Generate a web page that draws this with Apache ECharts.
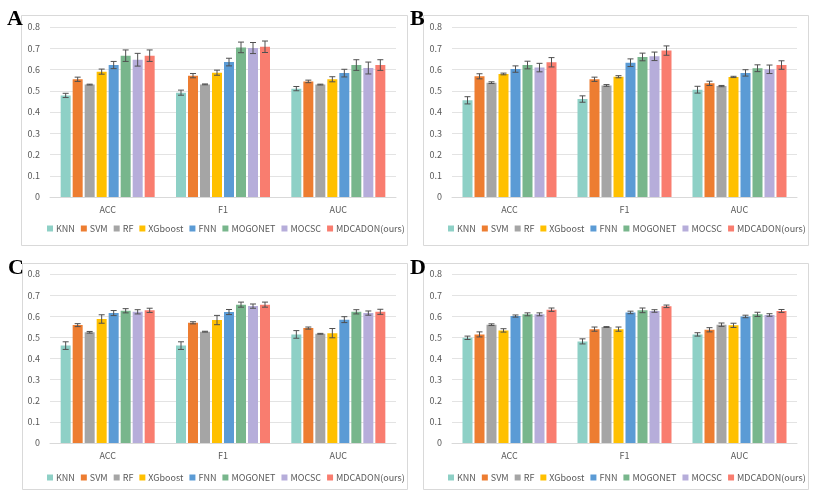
<!DOCTYPE html>
<html><head><meta charset="utf-8">
<script src="https://cdn.jsdelivr.net/npm/echarts@6/dist/echarts.min.js"></script>
<style>html,body{margin:0;padding:0;background:#fff}#c{width:820px;height:502px}</style>
</head><body><div id="c"></div>
<script>
const categories = ['ACC', 'F1', 'AUC'];
const methods = ['KNN', 'SVM', 'RF', 'XGboost', 'FNN', 'MOGONET', 'MOCSC', 'MDCADON(ours)'];
const yTicks = [0, 0.1, 0.2, 0.3, 0.4, 0.5, 0.6, 0.7, 0.8];
const panelLetters = ['A', 'B', 'C', 'D'];

// rows = methods, columns = ACC, F1, AUC
const meanA = [[0.478,0.491,0.510],[0.554,0.571,0.544],[0.529,0.530,0.529],[0.590,0.585,0.554],[0.621,0.635,0.583],[0.665,0.704,0.621],[0.646,0.701,0.607],[0.665,0.707,0.621]];
const errA  = [[0.010,0.012,0.010],[0.010,0.010,0.006],[0.002,0.002,0.002],[0.012,0.012,0.012],[0.017,0.018,0.018],[0.027,0.025,0.025],[0.030,0.026,0.028],[0.027,0.027,0.025]];
const meanB = [[0.455,0.461,0.505],[0.568,0.554,0.535],[0.538,0.525,0.522],[0.579,0.566,0.565],[0.602,0.632,0.584],[0.621,0.659,0.606],[0.609,0.662,0.601],[0.634,0.689,0.621]];
const errB  = [[0.017,0.015,0.016],[0.012,0.010,0.010],[0.004,0.004,0.003],[0.004,0.005,0.003],[0.015,0.018,0.015],[0.018,0.018,0.016],[0.020,0.020,0.020],[0.022,0.022,0.020]];
const meanC = [[0.461,0.461,0.514],[0.558,0.569,0.544],[0.524,0.527,0.517],[0.587,0.582,0.520],[0.615,0.620,0.584],[0.626,0.655,0.621],[0.621,0.648,0.615],[0.628,0.655,0.621]];
const errC  = [[0.018,0.018,0.018],[0.007,0.005,0.005],[0.004,0.002,0.002],[0.020,0.022,0.022],[0.012,0.012,0.014],[0.010,0.012,0.010],[0.010,0.010,0.010],[0.010,0.012,0.012]];
const meanD = [[0.498,0.481,0.514],[0.514,0.539,0.536],[0.560,0.549,0.560],[0.533,0.539,0.557],[0.601,0.618,0.599],[0.609,0.628,0.609],[0.609,0.625,0.606],[0.631,0.647,0.625]];
const errD  = [[0.008,0.012,0.008],[0.012,0.010,0.010],[0.004,0.002,0.008],[0.008,0.010,0.010],[0.005,0.006,0.006],[0.007,0.011,0.010],[0.007,0.006,0.006],[0.008,0.006,0.007]];

const means = [meanA, meanB, meanC, meanD];
const errs = [errA, errB, errC, errD];

const colors = ['#8ED0C6', '#ED7D31', '#A5A5A5', '#FFC000', '#5B9BD5', '#78B68C', '#B6ADDA', '#F97D6F'];

// layout
const grids = [
  {left: 50, top: 27, width: 346, height: 170},
  {left: 452, top: 27, width: 345, height: 170},
  {left: 50, top: 274, width: 346, height: 169},
  {left: 452, top: 274, width: 345, height: 169}
];
const boxes = [
  {x: 21, y: 15, w: 386, h: 230},
  {x: 423, y: 15, w: 385, h: 230},
  {x: 22, y: 263, w: 385, h: 226},
  {x: 423, y: 263, w: 385, h: 226}
];
const letterPos = [[7, 30], [410, 30], [8, 279], [410, 279]];
const legendPos = [[47, 224], [448, 224], [47, 473], [448, 473]];

const BW = 10, GAP = 2;
const font = '"Noto Sans CJK SC", "Noto Sans", sans-serif';
const textColor = '#595959';

const xAxis = [], yAxis = [], series = [], legend = [], graphic = [];
grids.forEach((g, p) => {
  xAxis.push({
    type: 'category', gridIndex: p, data: categories,
    axisLine: {lineStyle: {color: '#D9D9D9'}}, axisTick: {show: false},
    axisLabel: {color: textColor, fontSize: 9, fontFamily: font, margin: 8}
  });
  yAxis.push({
    type: 'value', gridIndex: p, min: 0, max: 0.8, interval: 0.1,
    axisLine: {show: false}, axisTick: {show: false},
    splitLine: {lineStyle: {color: '#E3E3E3'}},
    axisLabel: {color: textColor, fontSize: 9, fontFamily: font, margin: 10,
      formatter: v => { const t = yTicks.find(k => Math.abs(k - v) < 1e-9); return t === 0 ? '0' : String(+v.toFixed(1)); }}
  });
  methods.forEach((m, i) => {
    series.push({
      type: 'bar', name: m, xAxisIndex: p, yAxisIndex: p,
      data: means[p][i], barWidth: BW, barGap: '20%',
      itemStyle: {color: colors[i]}, emphasis: {disabled: true}
    });
  });
  const eData = [];
  methods.forEach((m, i) => categories.forEach((c, k) => eData.push([k, i, means[p][i][k], errs[p][i][k]])));
  series.push({
    type: 'custom', xAxisIndex: p, yAxisIndex: p, z: 10, silent: true,
    encode: {x: 0, y: 2},
    data: eData,
    renderItem: (params, api) => {
      const k = api.value(0), i = api.value(1), m = api.value(2), e = api.value(3);
      const n = methods.length;
      const off = -(n * BW + (n - 1) * GAP) / 2 + i * (BW + GAP) + BW / 2;
      const hi = api.coord([k, m + e]);
      const lo = api.coord([k, m - e]);
      const x = hi[0] + off;
      const st = {stroke: '#505050', lineWidth: 1};
      return {type: 'group', children: [
        {type: 'line', shape: {x1: x, y1: hi[1], x2: x, y2: lo[1]}, style: st},
        {type: 'line', shape: {x1: x - 3, y1: hi[1], x2: x + 3, y2: hi[1]}, style: st},
        {type: 'line', shape: {x1: x - 3, y1: lo[1], x2: x + 3, y2: lo[1]}, style: st}
      ]};
    }
  });
  const b = boxes[p];
  legend.push({
    data: methods, left: legendPos[p][0], top: legendPos[p][1], width: 400,
    itemWidth: 6, itemHeight: 6, itemGap: 6, icon: 'rect', padding: 0,
    textStyle: {color: textColor, fontSize: 9, fontFamily: font, padding: [0, 0, 0, -2]}
  });
  graphic.push({
    type: 'rect', shape: {x: b.x + 0.5, y: b.y + 0.5, width: b.w, height: b.h},
    style: {fill: 'none', stroke: '#D9D9D9', lineWidth: 1}, z: -1, silent: true
  });
  graphic.push({
    type: 'text', x: letterPos[p][0], y: letterPos[p][1],
    style: {text: panelLetters[p], font: 'bold 22px "Liberation Serif", "DejaVu Serif", serif', fill: '#000', textVerticalAlign: 'bottom'}
  });
});

const chart = echarts.init(document.getElementById('c'));
chart.setOption({
  animation: false, backgroundColor: '#fff',
  grid: grids, xAxis, yAxis, series, legend, graphic
});
</script></body></html>
